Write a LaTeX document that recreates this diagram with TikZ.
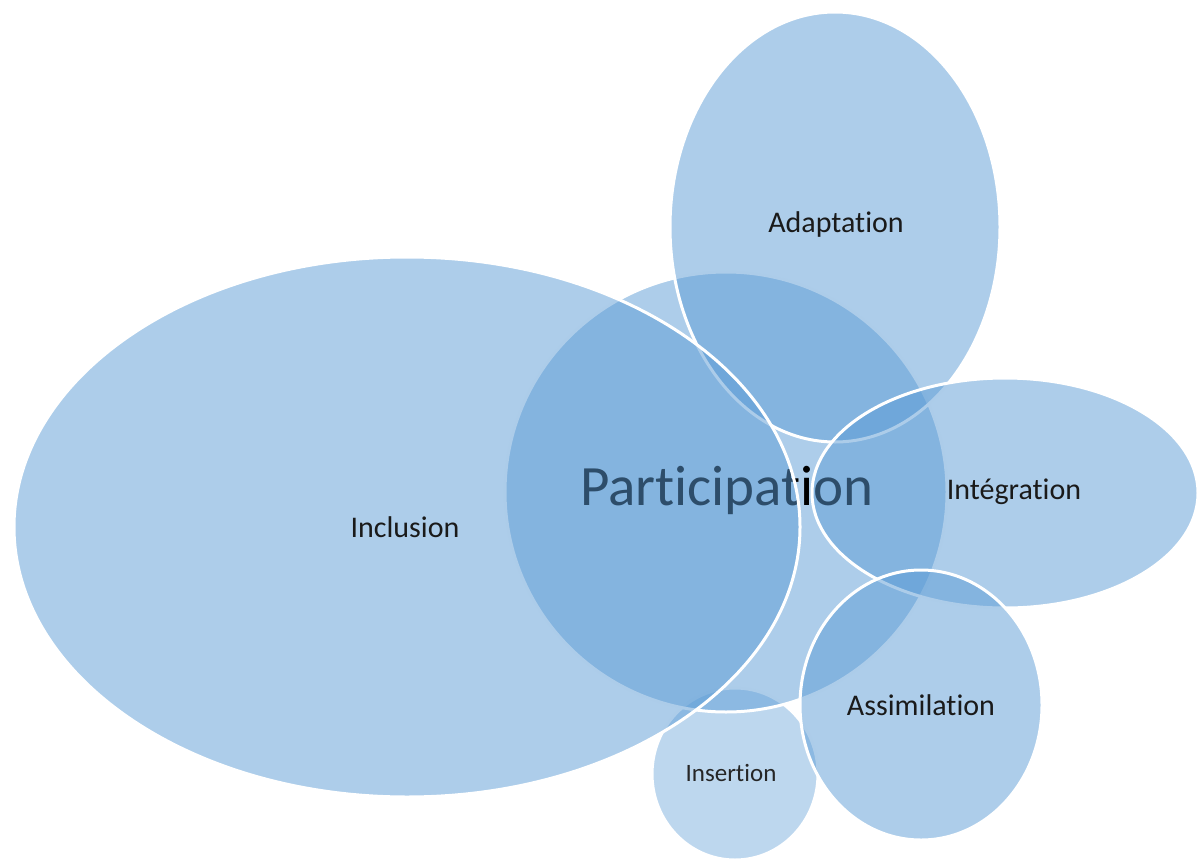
\documentclass[tikz,border=0pt]{standalone}
\usepackage{fontspec}
\setmainfont{Carlito}[RawFeature={-liga;-clig;-calt;-dlig;-rlig}]
\usetikzlibrary{shapes.geometric}
\definecolor{venn}{HTML}{5B9BD5}
\definecolor{labelink}{HTML}{1A1A1A}
\tikzset{
  blob/.style={ellipse, draw=white, line width=3pt, fill=venn, fill opacity=0.5,
    inner sep=0pt, outer sep=0pt},
  lbl/.style={text=labelink, inner sep=0pt, font=\fontsize{30}{36}\selectfont},
}
\begin{document}
\begin{tikzpicture}[x=1pt,y=-1pt]
\useasboundingbox (0,0) rectangle (1198,861);
\clip (0,0) rectangle (1198,861);
% bottom layer
\node[blob, fill opacity=0.4, minimum width=166pt, minimum height=172pt] (insertion) at (735,774) {};
\node[blob, minimum width=442pt, minimum height=440pt] (participation) at (726,492) {};
\node[text=black, inner sep=0pt, font=\fontsize{57}{62}\selectfont] (tparticipation) at (727,490) {Participation};
\node[blob, minimum width=330pt, minimum height=430pt] (adaptation) at (835,227) {};
\node[lbl] (tadaptation) at (836,225) {Adaptation};
\node[blob, minimum width=786pt, minimum height=540pt] (inclusion) at (407,527) {};
\node[lbl] (tinclusion) at (405,527) {Inclusion};
\node[blob, minimum width=386pt, minimum height=230pt] (integration) at (1005,493) {};
\node[lbl] (tintegration) at (1014,492) {Intégration};
\node[blob, minimum width=242pt, minimum height=270pt] (assimilation) at (921,705) {};
\node[lbl] (tassimilation) at (921,705) {Assimilation};
\node[lbl, font=\fontsize{25}{30}\selectfont, text=black!85] (tinsertion) at (731,773) {Insertion};
\end{tikzpicture}
\end{document}
